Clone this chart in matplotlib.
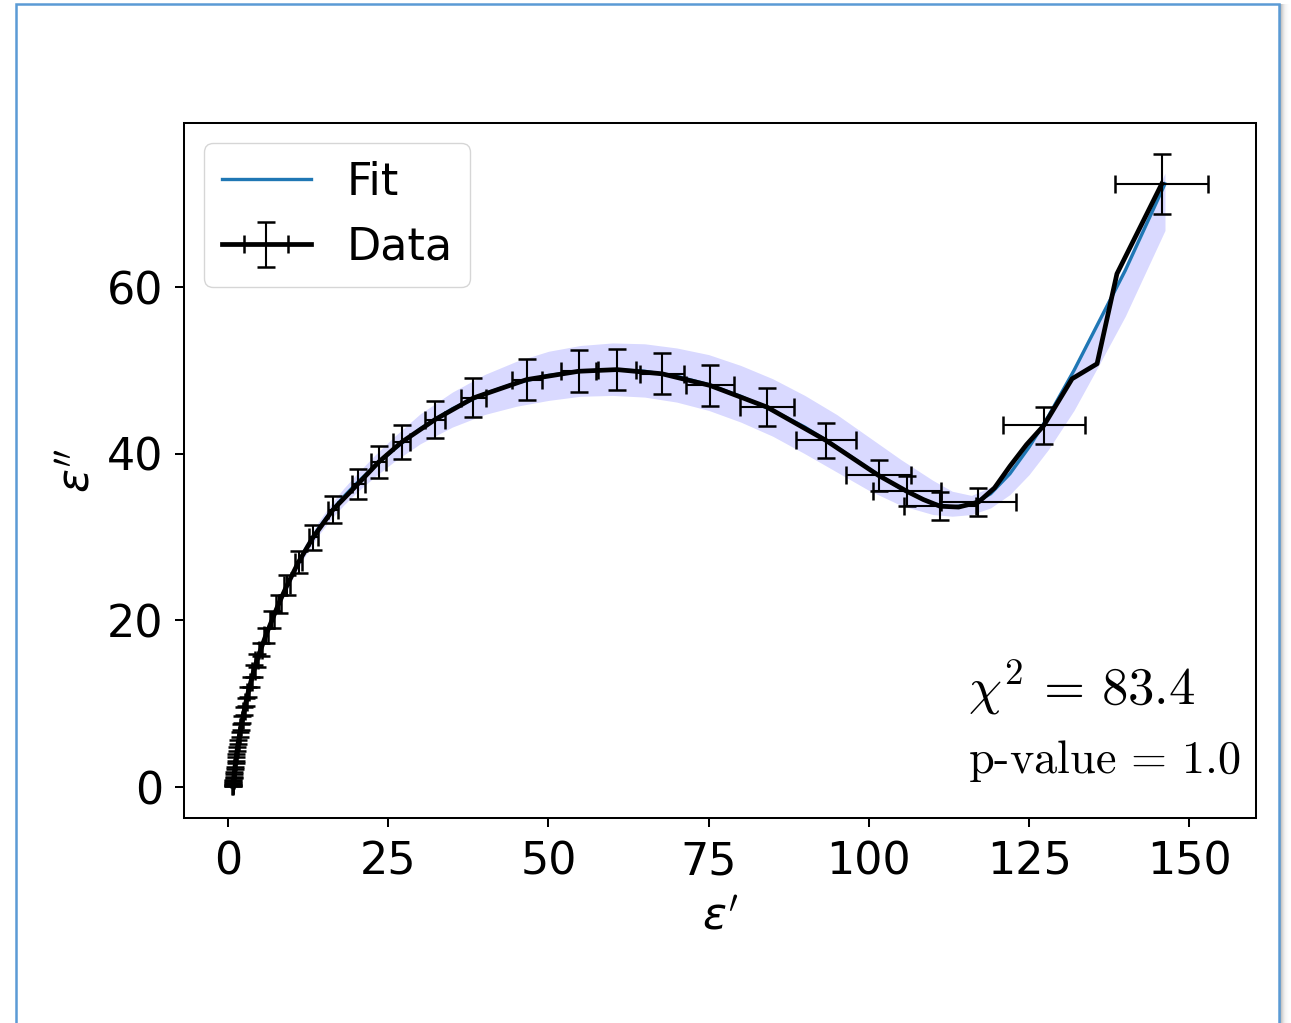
import numpy as np
import matplotlib
matplotlib.use("Agg")
import matplotlib.pyplot as plt
from matplotlib.patches import Rectangle

# ---- fitted model curve (Cole-Cole plane) ----
fit_real = [0.7, 1.0, 1.5, 2.0, 3.0, 4.0, 5.0, 6.0, 8.0, 10.0, 12.0, 14.0, 16.0, 18.0,
            20.0, 23.0, 26.0, 30.0, 35.0, 40.0, 45.0, 50.0, 55.0, 60.0, 65.0, 70.0,
            75.0, 80.0, 85.0, 90.0, 95.0, 100.0, 105.0, 110.0, 113.0, 116.0, 119.0,
            122.0, 125.0, 128.0, 132.0, 136.0, 140.0, 146.2]
fit_imag = [0.0, 2.0, 4.8, 7.2, 10.9, 13.9, 16.3, 18.4, 22.2, 25.5, 28.4, 30.9, 33.0, 34.8,
            36.4, 38.6, 40.6, 43.0, 45.4, 47.2, 48.5, 49.4, 49.9, 50.1, 49.9, 49.3,
            48.3, 46.9, 45.2, 43.2, 40.8, 38.2, 35.8, 34.0, 33.6, 33.9, 35.2,
            37.6, 40.8, 44.5, 50.0, 56.0, 62.0, 72.4]

# confidence band of the fit
band_lower = [0.0, 2.0, 4.75, 7.1, 10.7, 13.7, 16.0, 18.0, 21.7, 24.9, 27.7, 30.1, 32.1, 33.8,
              35.3, 37.3, 39.1, 41.2, 43.2, 44.7, 45.7, 46.4, 46.9, 47.0, 46.8, 46.2,
              45.2, 43.8, 42.1, 40.0, 37.8, 35.6, 33.8, 32.7, 32.5, 32.7, 33.5,
              35.1, 37.5, 40.5, 45.2, 50.8, 56.5, 66.8]
band_upper = [0.0, 2.0, 4.85, 7.3, 11.1, 14.1, 16.6, 18.8, 22.7, 26.1, 29.1, 31.7, 33.9, 35.8,
              37.5, 39.9, 42.1, 44.8, 47.4, 49.5, 51.1, 52.3, 53.0, 53.3, 53.2, 52.7,
              51.9, 50.6, 49.0, 47.0, 44.7, 42.0, 39.3, 36.8, 35.5, 35.0, 36.0,
              38.2, 41.3, 45.0, 50.5, 56.6, 62.7, 73.7]

# ---- measured permittivity ----
eps_real = [0.72, 0.75, 0.79, 0.84, 0.90, 0.97, 1.06, 1.18, 1.30, 1.45, 1.60, 1.80, 2.00,
            2.25, 2.50, 2.80, 3.15, 3.55, 4.00, 4.50, 5.10, 5.90, 6.90, 7.90, 9.20,
            11.0, 13.3, 16.4, 20.3, 23.5, 27.1, 32.3, 38.3, 46.6, 54.7, 60.7, 67.7,
            75.2, 84.1, 93.3, 101.5, 105.9, 108.5, 111.1, 114.0, 117.1, 119.6, 122.0,
            124.6, 127.3, 131.7, 135.6, 138.7, 145.7]
eps_imag = [0.10, 0.25, 0.50, 0.80, 1.20, 1.70, 2.30, 3.00, 3.80, 4.60, 5.40, 6.30, 7.20,
            8.10, 9.10, 10.2, 11.4, 12.6, 13.9, 15.2, 16.5, 18.2, 20.1, 22.0, 24.2,
            27.0, 30.0, 33.3, 36.4, 39.0, 41.4, 44.1, 46.7, 48.9, 49.9, 50.1, 49.6,
            48.2, 45.6, 41.6, 37.4, 35.5, 34.5, 33.7, 33.6, 34.2, 35.9, 38.5,
            41.1, 43.4, 49.0, 50.8, 61.6, 72.4]
# which measurements carry drawn error bars
has_errbar = [1] * 42 + [0, 1, 0, 1, 0, 0, 0, 1, 0, 0, 0, 1]
rel_uncertainty = 0.05

chi2 = 83.4
p_value = 1.0

W, H = 1291, 1023
fig = plt.figure(figsize=(W / 100, H / 100), dpi=100)
ax = fig.add_axes([184 / W, 1 - 818 / H, (1256 - 184) / W, (818 - 123) / H])

fr = np.array(fit_real)
ax.fill_between(fr, band_lower, band_upper, color="blue", alpha=0.15, lw=0)
ax.plot(fr, fit_imag, color="C0", lw=2.4, label="Fit")

er = np.array(eps_real)
ei = np.array(eps_imag)
ax.errorbar(er, ei, xerr=rel_uncertainty * er, yerr=rel_uncertainty * ei,
            errorevery=np.array(has_errbar, dtype=bool), color="black", lw=3.4,
            elinewidth=1.5, capsize=6.5, capthick=1.8, label="Data")

ax.set_xlim(-6.87, 160.4)
ax.set_ylim(-3.72, 79.7)
ax.set_xticks([0, 25, 50, 75, 100, 125, 150])
ax.set_yticks([0, 20, 40, 60])
ax.tick_params(labelsize=32, length=6.5, width=1.45)
ax.tick_params(axis="x", pad=10)
ax.tick_params(axis="y", pad=8)
for s in ax.spines.values():
    s.set_linewidth(1.45)

ax.set_xlabel(r"$\varepsilon'$", fontsize=32, labelpad=8)
ax.set_ylabel(r"$\varepsilon''$", fontsize=32, labelpad=6)

leg = ax.legend(loc="upper left", fontsize=32, handlelength=2.0, borderaxespad=0.45)

ax.text(0.731, 0.163, r"$\chi^2 \,=\, %.1f$" % chi2, transform=ax.transAxes,
        fontsize=38, math_fontfamily="cm", ha="left", va="baseline")
ax.text(0.731, 0.065, r"$\text{p-value} \,=\, %.1f$" % p_value, transform=ax.transAxes,
        fontsize=33.3, math_fontfamily="cm", ha="left", va="baseline")

# outer frame with a soft shadow on the right
for i, a in enumerate([0.30, 0.22, 0.16, 0.11, 0.07, 0.045, 0.03, 0.02, 0.012, 0.006]):
    fig.patches.append(Rectangle(((1280 + i) / W, 0), 1 / W, 1 - 4 / H,
                                 transform=fig.transFigure, facecolor="black",
                                 alpha=a, lw=0))
fig.patches.append(Rectangle((15.5 / W, -0.05), (1278.5 - 15.5) / W, 1.05 - 3.5 / H,
                             transform=fig.transFigure, fill=False,
                             edgecolor="#5b9bd5", lw=1.8))

fig.savefig("out.png", dpi=100)
